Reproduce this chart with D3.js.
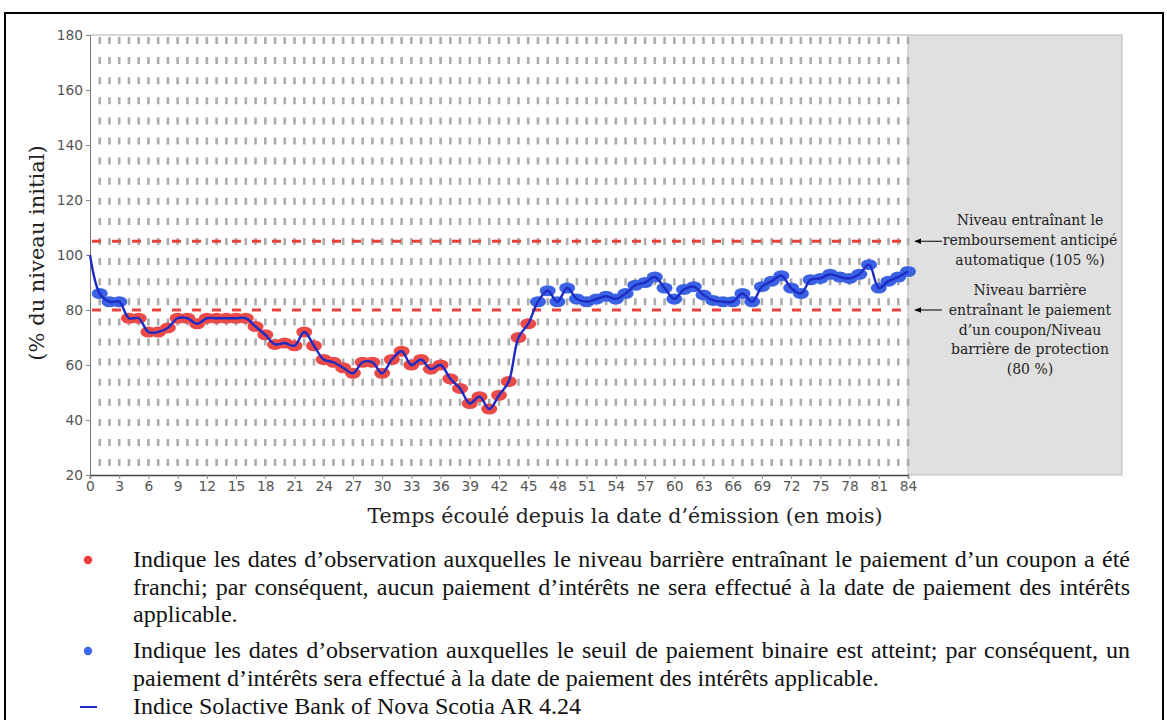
<!DOCTYPE html>
<html>
<head>
<meta charset="utf-8">
<script src="https://cdn.jsdelivr.net/npm/d3@7"></script>
<style>
  body { margin: 0; background: #fff; }
  svg { display: block; }
</style>
</head>
<body>
<div class="chart"></div>
<script>
// months since issue and the index level (% of initial level)
const months = d3.range(0, 85);
const levels = [100, 86, 83, 83, 77, 77, 72, 72, 73.5, 77, 77, 75, 77, 77, 77, 77, 77, 74, 71, 67.5,
  68, 67, 72, 67, 62, 61, 59, 57, 61, 61, 57, 62, 65, 60, 62, 58.5, 60, 55, 51.5, 46,
  48.5, 44, 49, 54, 70, 75, 83, 87, 83, 88, 84, 83, 84, 85, 84, 86, 89, 90, 92, 88,
  84, 87.5, 88.5, 85.5, 83.5, 83, 83, 86, 83, 88.5, 90.5, 92.5, 88, 86, 91, 91.5, 93, 92, 91.5, 93,
  96.5, 88, 90.5, 92, 94];
const xTicks = d3.range(0, 85, 3);
const yTicks = [20, 40, 60, 80, 100, 120, 140, 160, 180];
const autocallLevel = 105;
const barrierLevel = 80;

const annotAutocall = ["Niveau entraînant le", "remboursement anticipé", "automatique (105 %)"];
const annotBarrier = ["Niveau barrière", "entraînant le paiement", "d’un coupon/Niveau", "barrière de protection", "(80 %)"];

const legendItems = [
  { type: "red", lines: [
    "Indique les dates d’observation auxquelles le niveau barrière entraînant le paiement d’un coupon a été",
    "franchi; par conséquent, aucun paiement d’intérêts ne sera effectué à la date de paiement des intérêts",
    "applicable."] },
  { type: "blue", lines: [
    "Indique les dates d’observation auxquelles le seuil de paiement binaire est atteint; par conséquent, un",
    "paiement d’intérêts sera effectué à la date de paiement des intérêts applicable."] },
  { type: "line", lines: ["Indice Solactive Bank of Nova Scotia AR 4.24"] }
];

const width = 1167, height = 720;
const plotL = 90, plotR = 908, plotT = 35, plotB = 475;

const svg = d3.select(".chart").append("svg")
  .attr("width", width).attr("height", height);

// outer frame
svg.append("rect")
  .attr("x", 5).attr("y", 13).attr("width", 1158).attr("height", 720)
  .attr("fill", "none").attr("stroke", "#000").attr("stroke-width", 2);

const x = d3.scaleLinear().domain([0, 84]).range([plotL, plotR]);
const y = d3.scaleLinear().domain([20, 180]).range([plotB, plotT]);

// grey panel after maturity
svg.append("rect")
  .attr("x", plotR).attr("y", plotT).attr("width", 1122 - plotR).attr("height", plotB - plotT)
  .attr("fill", "#e0e0e0").attr("stroke", "#b8b8b8").attr("stroke-width", 1);

// top frame line
svg.append("line")
  .attr("x1", plotL).attr("x2", plotR).attr("y1", plotT).attr("y2", plotT)
  .attr("stroke", "#b0b0b0").attr("stroke-width", 1);

// dashed vertical grid, one per month
svg.append("g")
  .selectAll("line")
  .data(months.filter((m) => m > 0))
  .join("line")
  .attr("x1", (d) => x(d)).attr("x2", (d) => x(d))
  .attr("y1", plotT).attr("y2", plotB)
  .attr("stroke", "#acacac")
  .attr("stroke-width", 2.6)
  .attr("stroke-dasharray", "7,13.1")
  .attr("stroke-dashoffset", -2);

// red level lines
svg.append("g")
  .selectAll("line")
  .data([autocallLevel, barrierLevel])
  .join("line")
  .attr("x1", plotL + 2).attr("x2", plotR)
  .attr("y1", (d) => y(d)).attr("y2", (d) => y(d))
  .attr("stroke", "#e8423f")
  .attr("stroke-width", 2.8)
  .attr("stroke-dasharray", "9,11");

// axes
const yAxis = svg.append("g")
  .attr("transform", `translate(${plotL},0)`)
  .call(d3.axisLeft(y).tickValues(yTicks).tickSize(4).tickPadding(3));
const xAxis = svg.append("g")
  .attr("transform", `translate(0,${plotB})`)
  .call(d3.axisBottom(x).tickValues(xTicks).tickSize(4).tickPadding(2));
yAxis.select(".domain").attr("stroke", "#777");
xAxis.select(".domain").attr("stroke", "#444").attr("stroke-width", 1.5);
[xAxis, yAxis].forEach((a) => {
  a.selectAll(".tick line").attr("stroke", "#888");
  a.selectAll(".tick text")
    .attr("fill", "#555")
    .style("font-family", "DejaVu Sans")
    .style("font-size", "13.8px");
});

// observation markers
svg.append("g")
  .selectAll("ellipse")
  .data(months.filter((m) => m > 0))
  .join("ellipse")
  .attr("cx", (d) => x(d))
  .attr("cy", (d) => y(levels[d]))
  .attr("rx", 8)
  .attr("ry", 5.5)
  .attr("fill", (d) => (levels[d] < barrierLevel ? "#ea4a48" : "#3c62e4"));

// index line
const line = d3.line()
  .x((d) => x(d))
  .y((d) => y(levels[d]))
  .curve(d3.curveCatmullRom.alpha(0.5));
svg.append("path")
  .datum(months)
  .attr("d", line)
  .attr("fill", "none")
  .attr("stroke", "#1b2bc4")
  .attr("stroke-width", 2.4);

// axis titles
svg.append("text")
  .attr("transform", `translate(44,253) rotate(-90)`)
  .attr("text-anchor", "middle")
  .style("font-family", "DejaVu Serif")
  .style("font-size", "21px")
  .attr("fill", "#222")
  .text("(% du niveau initial)");

svg.append("text")
  .attr("x", 625).attr("y", 523)
  .attr("text-anchor", "middle")
  .style("font-family", "DejaVu Serif")
  .style("font-size", "20.5px")
  .attr("fill", "#222")
  .text("Temps écoulé depuis la date d’émission (en mois)");

// annotations in grey panel
function annot(lines, y0) {
  svg.append("g")
    .selectAll("text")
    .data(lines)
    .join("text")
    .attr("x", 1030)
    .attr("y", (d, i) => y0 + i * 19.8)
    .attr("text-anchor", "middle")
    .style("font-family", "DejaVu Serif")
    .style("font-size", "14px")
    .attr("fill", "#222")
    .text((d) => d);
}
annot(annotAutocall, 225);
annot(annotBarrier, 295);

// arrows
const defs = svg.append("defs");
defs.append("marker")
  .attr("id", "arrow")
  .attr("viewBox", "0 0 10 10")
  .attr("refX", 1).attr("refY", 5)
  .attr("markerWidth", 7).attr("markerHeight", 7)
  .attr("orient", "auto")
  .append("path")
  .attr("d", "M10,1 L0,5 L10,9 Z")
  .attr("fill", "#000");

svg.append("g")
  .selectAll("line")
  .data([autocallLevel, barrierLevel])
  .join("line")
  .attr("x1", 915).attr("x2", 942)
  .attr("y1", (d) => y(d)).attr("y2", (d) => y(d))
  .attr("stroke", "#000")
  .attr("stroke-width", 1)
  .attr("marker-start", "url(#arrow)");

// legend below the chart, justified like the document text
const legX = 133, legRight = 1130;
const legFont = "Liberation Serif";
const legSize = 24;
const baselines = [[567, 594.5, 622], [658, 685.5], [714]];

const measure = svg.append("text")
  .style("font-family", legFont).style("font-size", legSize + "px");
function textW(s) {
  measure.text(s);
  return measure.node().getComputedTextLength();
}

legendItems.forEach((item, k) => {
  item.lines.forEach((ln, i) => {
    const yy = baselines[k][i];
    const last = i === item.lines.length - 1;
    const g = svg.append("g");
    if (last) {
      g.append("text").attr("x", legX).attr("y", yy)
        .style("font-family", legFont).style("font-size", legSize + "px")
        .attr("fill", "#111").text(ln);
    } else {
      const words = ln.split(" ");
      const ws = words.map(textW);
      const total = d3.sum(ws);
      const gap = (legRight - legX - total) / (words.length - 1);
      let cx = legX;
      words.forEach((w, j) => {
        g.append("text").attr("x", cx).attr("y", yy)
          .style("font-family", legFont).style("font-size", legSize + "px")
          .attr("fill", "#111").text(w);
        cx += ws[j] + gap;
      });
    }
  });
  const my = baselines[k][0] - 7;
  if (item.type === "line") {
    svg.append("line").attr("x1", 80).attr("x2", 97).attr("y1", my).attr("y2", my)
      .attr("stroke", "#1b2bc4").attr("stroke-width", 2);
  } else {
    svg.append("circle").attr("cx", 88).attr("cy", my).attr("r", 4.2)
      .attr("fill", item.type === "red" ? "#f03a3a" : "#3a68f0");
  }
});
measure.remove();
</script>
</body>
</html>
